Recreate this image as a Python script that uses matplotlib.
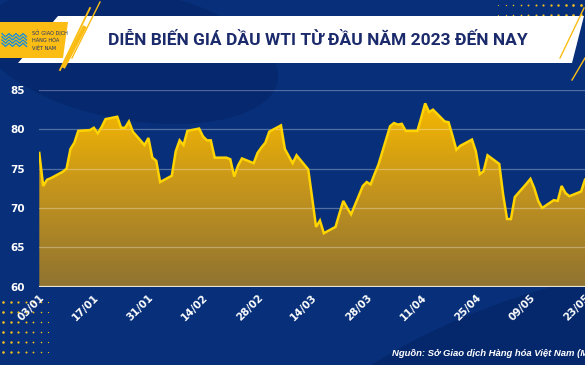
import numpy as np
import pandas as pd
import matplotlib
matplotlib.use("Agg")
import matplotlib.pyplot as plt
import matplotlib.dates as mdates
from matplotlib.patches import Polygon, Ellipse
from matplotlib.colors import LinearSegmentedColormap


# Gia dau WTI (USD/thung) doc tu bieu do goc
dates = [
    "2023-01-03", "2023-01-04", "2023-01-05", "2023-01-06", "2023-01-09", "2023-01-10",
    "2023-01-11", "2023-01-12", "2023-01-13", "2023-01-16", "2023-01-17", "2023-01-18",
    "2023-01-19", "2023-01-20", "2023-01-23", "2023-01-24", "2023-01-25", "2023-01-26",
    "2023-01-27", "2023-01-30", "2023-01-31", "2023-02-01", "2023-02-02", "2023-02-03",
    "2023-02-06", "2023-02-07", "2023-02-08", "2023-02-09", "2023-02-10", "2023-02-13",
    "2023-02-14", "2023-02-15", "2023-02-16", "2023-02-17", "2023-02-20", "2023-02-21",
    "2023-02-22", "2023-02-23", "2023-02-24", "2023-02-27", "2023-02-28", "2023-03-01",
    "2023-03-02", "2023-03-03", "2023-03-06", "2023-03-07", "2023-03-08", "2023-03-09",
    "2023-03-10", "2023-03-13", "2023-03-14", "2023-03-15", "2023-03-16", "2023-03-17",
    "2023-03-20", "2023-03-21", "2023-03-22", "2023-03-23", "2023-03-24", "2023-03-27",
    "2023-03-28", "2023-03-29", "2023-03-30", "2023-03-31", "2023-04-03", "2023-04-04",
    "2023-04-05", "2023-04-06", "2023-04-07", "2023-04-10", "2023-04-11", "2023-04-12",
    "2023-04-13", "2023-04-14", "2023-04-17", "2023-04-18", "2023-04-19", "2023-04-20",
    "2023-04-21", "2023-04-24", "2023-04-25", "2023-04-26", "2023-04-27", "2023-04-28",
    "2023-05-01", "2023-05-02", "2023-05-03", "2023-05-04", "2023-05-05", "2023-05-08",
    "2023-05-09", "2023-05-10", "2023-05-11", "2023-05-12", "2023-05-15", "2023-05-16",
    "2023-05-17", "2023-05-18", "2023-05-19", "2023-05-22", "2023-05-23",
]
prices = [
    77.0, 72.8, 73.6, 73.8, 74.6, 75.0,
    77.5, 78.3, 79.8, 79.9, 80.2, 79.5,
    80.3, 81.3, 81.6, 80.2, 80.2, 81.0,
    79.7, 78.0, 78.9, 76.4, 76.0, 73.3,
    74.1, 77.2, 78.6, 78.0, 79.8, 80.1,
    79.1, 78.6, 78.6, 76.4, 76.4, 76.2,
    74.0, 75.4, 76.3, 75.7, 77.0, 77.7,
    78.3, 79.7, 80.5, 77.5, 76.6, 75.7,
    76.7, 74.9, 71.3, 67.6, 68.4, 66.8,
    67.6, 69.3, 70.9, 70.0, 69.2, 72.8,
    73.3, 73.0, 74.3, 75.5, 80.4, 80.8,
    80.6, 80.7, 79.8, 79.8, 81.5, 83.3,
    82.2, 82.5, 81.0, 80.9, 79.2, 77.4,
    77.9, 78.7, 77.2, 74.3, 74.7, 76.7,
    75.6, 71.7, 68.6, 68.6, 71.4, 73.1,
    73.7, 72.5, 70.9, 70.0, 71.0, 70.9,
    72.8, 71.9, 71.5, 72.1, 73.6,
]
tick_dates = ["2023-01-03", "2023-01-17", "2023-01-31", "2023-02-14", "2023-02-28", "2023-03-14",
              "2023-03-28", "2023-04-11", "2023-04-25", "2023-05-09", "2023-05-23"]
y_ticks = [60, 65, 70, 75, 80, 85]

title = "DIỄN BIẾN GIÁ DẦU WTI TỪ ĐẦU NĂM 2023 ĐẾN NAY"
source = "Nguồn: Sở Giao dịch Hàng hóa Việt Nam (MXV)"

navy = "#08307a"
x = pd.to_datetime(dates)
xt = pd.to_datetime(tick_dates)

fig = plt.figure(figsize=(5.85, 3.65), dpi=100, facecolor=navy)

# Nen trang tri (song toi mau, cham vang)
bg = fig.add_axes([0, 0, 1, 1], zorder=-5)
bg.set_xlim(0, 585)
bg.set_ylim(365, 0)
bg.axis("off")
bg.add_patch(Ellipse((130, 55), 300, 130, angle=10, color="#04266a", alpha=0.7, lw=0))
bg.add_patch(Ellipse((560, 420), 620, 260, angle=-18, color="#042568", alpha=0.7, lw=0))
for i in range(6):
    for j in range(7):
        bg.scatter(3 + j * 7.5, 302 + i * 10, s=3.5 - j * 0.45, color="#f5c21b", lw=0)
for i in range(2):
    for j in range(12):
        bg.scatter(498 + j * 7.5, 5 + i * 10, s=0.6 + j * 0.3, color="#f5c21b", lw=0)

# Banner tieu de
bg.add_patch(Polygon([(18, 63), (58, 16), (584, 16), (572, 63)], closed=True, color="white", lw=0))
bg.add_patch(Polygon([(0, 22), (68, 22), (63, 58), (0, 58)], closed=True, color="#fbbd14", lw=0))
bg.plot([60, 90], [70, 8], color="#fbbd14", lw=1.3)
bg.plot([64, 84], [66, 28], color="#fbbd14", lw=3)
bg.plot([72, 100], [58, 2], color="#fbbd14", lw=1)
bg.plot([560, 584], [58, 8], color="#fbbd14", lw=1)
bg.plot([572, 585], [80, 58], color="#fbbd14", lw=1)
# logo
for k in range(4):
    xs = np.arange(2, 30, 3.5)
    ys = 40 + (k - 1.5) * 3.2 + np.where(np.arange(len(xs)) % 2 == 0, -1.6, 1.6)
    bg.plot(xs, ys, color="#1e8fd0", lw=1.0)
bg.text(32, 33, "SỞ GIAO DỊCH", fontsize=3.6, color="#1d2f6b", va="center")
bg.text(32, 40, "HÀNG HÓA", fontsize=3.6, color="#1d2f6b", va="center")
bg.text(32, 47, "VIỆT NAM", fontsize=3.6, color="#1d2f6b", va="center")
bg.text(318, 40, title, fontsize=12.5, fontweight="bold", color="#1b2a6b",
        ha="center", va="center", family="Roboto")

# Bieu do chinh
ax = fig.add_axes([38.5 / 585, 1 - 286.7 / 365, 1 - 38.5 / 585, (286.7 - 90) / 365])
ax.set_facecolor("none")
xmin = mdates.date2num(x[0]) - 0.2
xmax = mdates.date2num(x[-1])
ax.set_xlim(xmin, xmax)
ax.set_ylim(60, 85)

poly = ax.fill_between(x, prices, 60, color="none", lw=0)
cmap = LinearSegmentedColormap.from_list("gold", ["#8f7331", "#c1921e", "#f6b800"])
grad = np.linspace(0, 1, 256).reshape(-1, 1)
img = ax.imshow(grad, cmap=cmap, aspect="auto", origin="lower",
                extent=[xmin, xmax, 60, 83.5], zorder=1)
img.set_clip_path(poly.get_paths()[0], transform=ax.transData)
ax.set_xlim(xmin, xmax)
ax.set_ylim(60, 85)

for v in y_ticks[1:]:
    ax.axhline(v, color="white", alpha=0.3, lw=0.9, zorder=2)
ax.plot(x, prices, color="#ffd400", lw=1.8, zorder=3, solid_joinstyle="miter")
ax.axhline(60, color="#ece3cf", lw=1.6, zorder=4)

for s in ax.spines.values():
    s.set_visible(False)
ax.set_yticks(y_ticks)
ax.set_xticks(xt)
ax.set_xticklabels([d.strftime("%d/%m") for d in xt], rotation=45, ha="right",
                   va="top", rotation_mode="anchor")
ax.tick_params(axis="both", length=0, colors="white", labelsize=7.5)
ax.tick_params(axis="y", pad=10)
ax.tick_params(axis="x", pad=4)
for lab in ax.get_xticklabels() + ax.get_yticklabels():
    lab.set_fontweight("bold")

fig.text(392 / 585, 1 - 354 / 365, source, fontsize=6.8, color="white",
         fontweight="bold", style="italic", va="center", ha="left",
         family="Liberation Sans")

fig.savefig("out.png", dpi=100, facecolor=navy)
